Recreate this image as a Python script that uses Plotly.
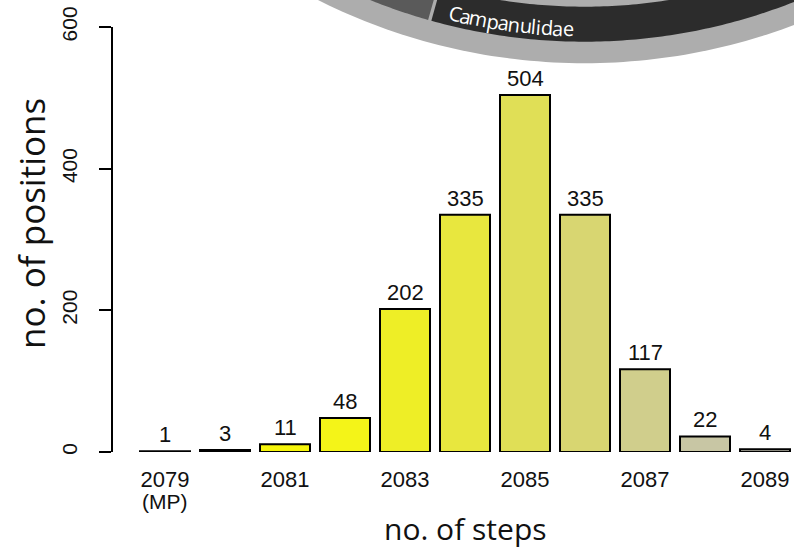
import math
import plotly.graph_objects as go

# Number of positions requiring a given number of steps
steps = [2079, 2080, 2081, 2082, 2083, 2084, 2085, 2086, 2087, 2088, 2089]
positions = [1, 3, 11, 48, 202, 335, 504, 335, 117, 22, 4]
bar_colors = ["#f8f800", "#f8f800", "#f6f50a", "#f4f418", "#eeee26", "#e8e73e",
              "#e0df56", "#d8d671", "#d0ce8c", "#c8c6a4", "#b8b7a8"]

tick_steps = [2079, 2081, 2083, 2085, 2087, 2089]
tick_labels = ["2079", "2081", "2083", "2085", "2087", "2089"]
mp_note = "(MP)"
y_ticks = [0, 200, 400, 600]

clade_label = "Campanulidae"

# ---- canvas geometry (pixels) ----
W, H = 794, 549
ML, MR, MT, MB = 113, 0, 27, 97
PW, PH = W - ML - MR, H - MT - MB


def px(x):
    return (x - ML) / PW


def py(y):
    return (H - MB - y) / PH


fig = go.Figure()

fig.add_trace(go.Bar(
    x=steps, y=positions,
    marker=dict(color=bar_colors, line=dict(color="black", width=2)),
    hoverinfo="x+y",
    showlegend=False,
))

label_font = dict(family="Liberation Sans, Arial, sans-serif", size=22, color="#111111")

# value labels above bars
for s, v in zip(steps, positions):
    fig.add_annotation(x=s, y=v, text=str(v), showarrow=False,
                       yanchor="bottom", xanchor="center", yshift=2,
                       font=label_font)

# second line under the first step label
fig.add_annotation(x=steps[0], xref="x", yref="paper", y=py(501), text=mp_note,
                   showarrow=False, xanchor="center", yanchor="middle",
                   font=dict(family="Liberation Sans, Arial, sans-serif",
                             size=21, color="#111111"))

# ---- ring of the clade tree drawn in the top part ----
CX, CY = 584.5, -530.3
R_OUT, R_DARK_OUT, R_DARK_IN = 593.5, 572.0, 537.0
SEP = math.radians(-15.7)
GAP = math.radians(0.17)


def arc_pts(r, a0, a1, n=240):
    pts = []
    for i in range(n + 1):
        a = a0 + (a1 - a0) * i / n
        pts.append((CX + r * math.sin(a), CY + r * math.cos(a)))
    return pts


def to_path(pts):
    return "M " + " L ".join(f"{px(x):.5f},{py(y):.5f}" for x, y in pts) + " Z"


half = math.pi / 2
# outer light band (half disc, centre far above the canvas)
fig.add_shape(type="path", xref="paper", yref="paper",
              path=to_path(arc_pts(R_OUT, -half, half)),
              fillcolor="#adadad", line=dict(width=0), layer="below")
# left segment of the dark band
seg_l = arc_pts(R_DARK_OUT, -half, SEP - GAP) + arc_pts(R_DARK_IN, SEP - GAP, -half)
fig.add_shape(type="path", xref="paper", yref="paper", path=to_path(seg_l),
              fillcolor="#5a5a5a", line=dict(width=0), layer="below")
# right segment of the dark band
seg_r = arc_pts(R_DARK_OUT, SEP + GAP, half) + arc_pts(R_DARK_IN, half, SEP + GAP)
fig.add_shape(type="path", xref="paper", yref="paper", path=to_path(seg_r),
              fillcolor="#2c2c2c", line=dict(width=0), layer="below")

# curved clade label, one glyph at a time
adv = {"C": 0.633, "a": 0.556, "m": 0.858, "p": 0.613, "n": 0.613, "u": 0.613,
       "l": 0.258, "i": 0.258, "d": 0.613, "e": 0.561}
fs = 20
track = 0.95
r_base = 567.0
r_mid = r_base - 0.39 * fs
total = sum(adv[c] for c in clade_label) * fs * track
theta_c = -0.132
s = -total / 2
for ch in clade_label:
    w = adv[ch] * fs * track
    th = theta_c + (s + w / 2) / r_base
    x = CX + r_mid * math.sin(th)
    y = CY + r_mid * math.cos(th)
    fig.add_annotation(xref="paper", yref="paper", x=px(x), y=py(y), text=ch,
                       showarrow=False, xanchor="center", yanchor="middle",
                       textangle=-math.degrees(th),
                       font=dict(family="Open Sans, sans-serif", size=fs, color="white"))
    s += w

# axis titles
fig.add_annotation(xref="paper", yref="paper", x=px(465), y=py(528),
                   text="no. of steps", showarrow=False,
                   xanchor="center", yanchor="middle",
                   font=dict(family="Open Sans, sans-serif", size=30, color="#111111"))
fig.add_annotation(xref="paper", yref="paper", x=px(31), y=py(224),
                   text="no. of positions", showarrow=False, textangle=-90,
                   xanchor="center", yanchor="middle",
                   font=dict(family="Open Sans, sans-serif", size=35, color="#111111"))

fig.update_layout(
    width=W, height=H,
    margin=dict(l=ML, r=MR, t=MT, b=MB, pad=0),
    paper_bgcolor="white", plot_bgcolor="white",
    bargap=1 / 6,
    showlegend=False,
    xaxis=dict(range=[2079 - 52 / 60, 2079 + 629 / 60], tickmode="array",
               tickvals=tick_steps, ticktext=tick_labels, ticks="",
               showline=False, showgrid=False, zeroline=False,
               ticklabelstandoff=12, automargin=False,
               tickfont=dict(family="Liberation Sans, Arial, sans-serif",
                             size=22, color="#111111")),
    yaxis=dict(range=[0, 600], tickmode="array", tickvals=y_ticks,
               ticks="outside", ticklen=12, tickwidth=1.5, tickcolor="black",
               showline=True, linecolor="black", linewidth=1.5,
               showgrid=False, zeroline=False, tickangle=-90,
               ticklabelstandoff=14, automargin=False,
               tickfont=dict(family="Liberation Sans, Arial, sans-serif",
                             size=21, color="#111111")),
)

fig.write_html("out.html")
